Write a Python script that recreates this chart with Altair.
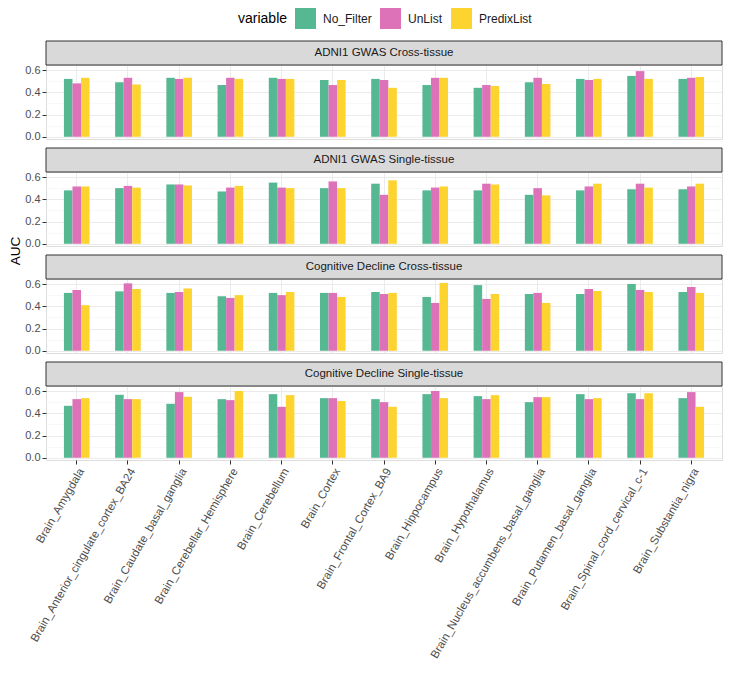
import altair as alt
import pandas as pd

tissues = [
    "Brain_Amygdala", "Brain_Anterior_cingulate_cortex_BA24", "Brain_Caudate_basal_ganglia",
    "Brain_Cerebellar_Hemisphere", "Brain_Cerebellum", "Brain_Cortex", "Brain_Frontal_Cortex_BA9",
    "Brain_Hippocampus", "Brain_Hypothalamus", "Brain_Nucleus_accumbens_basal_ganglia",
    "Brain_Putamen_basal_ganglia", "Brain_Spinal_cord_cervical_c-1", "Brain_Substantia_nigra",
]
variables = ["No_Filter", "UnList", "PredixList"]
colors = ["#56B893", "#DE72B9", "#FDD330"]
panels = [
    "ADNI1 GWAS Cross-tissue", "ADNI1 GWAS Single-tissue",
    "Cognitive Decline Cross-tissue", "Cognitive Decline Single-tissue",
]

adni_cross_nofilter = [0.52, 0.49, 0.53, 0.465, 0.53, 0.51, 0.52, 0.465, 0.44, 0.49, 0.52, 0.547, 0.52]
adni_cross_unlist = [0.48, 0.53, 0.52, 0.53, 0.52, 0.465, 0.51, 0.53, 0.465, 0.53, 0.51, 0.59, 0.53]
adni_cross_predix = [0.53, 0.47, 0.53, 0.52, 0.52, 0.51, 0.44, 0.53, 0.456, 0.475, 0.52, 0.52, 0.537]

adni_single_nofilter = [0.48, 0.50, 0.533, 0.47, 0.55, 0.50, 0.54, 0.48, 0.48, 0.44, 0.48, 0.49, 0.49]
adni_single_unlist = [0.515, 0.52, 0.533, 0.505, 0.505, 0.56, 0.44, 0.505, 0.54, 0.50, 0.515, 0.54, 0.515]
adni_single_predix = [0.515, 0.505, 0.524, 0.52, 0.50, 0.50, 0.57, 0.515, 0.533, 0.435, 0.54, 0.505, 0.54]

cog_cross_nofilter = [0.52, 0.534, 0.52, 0.49, 0.52, 0.52, 0.528, 0.484, 0.59, 0.51, 0.51, 0.60, 0.528]
cog_cross_unlist = [0.546, 0.606, 0.528, 0.475, 0.50, 0.52, 0.51, 0.43, 0.466, 0.52, 0.555, 0.546, 0.573]
cog_cross_predix = [0.41, 0.555, 0.56, 0.50, 0.528, 0.484, 0.52, 0.61, 0.51, 0.43, 0.537, 0.528, 0.52]

cog_single_nofilter = [0.467, 0.566, 0.485, 0.527, 0.572, 0.536, 0.527, 0.572, 0.554, 0.50, 0.572, 0.58, 0.536]
cog_single_unlist = [0.527, 0.527, 0.59, 0.518, 0.458, 0.536, 0.50, 0.60, 0.527, 0.545, 0.527, 0.527, 0.59]
cog_single_predix = [0.536, 0.527, 0.548, 0.60, 0.563, 0.51, 0.458, 0.536, 0.563, 0.545, 0.536, 0.58, 0.458]

panel_values = [
    [adni_cross_nofilter, adni_cross_unlist, adni_cross_predix],
    [adni_single_nofilter, adni_single_unlist, adni_single_predix],
    [cog_cross_nofilter, cog_cross_unlist, cog_cross_predix],
    [cog_single_nofilter, cog_single_unlist, cog_single_predix],
]

W = 676
H = 74
STRIP = 24
GAP = 33
FONT = "Liberation Sans"

y_ticks = [0.0, 0.1, 0.2, 0.3, 0.4, 0.5, 0.6]
minor_test = "round(datum.value * 10) % 2 == 1"


def make_panel(idx):
    name = panels[idx]
    rows = []
    for v, series in zip(variables, panel_values[idx]):
        for t, val in zip(tissues, series):
            rows.append({"tissue": t, "variable": v, "AUC": val})
    df = pd.DataFrame(rows)
    bottom = idx == len(panels) - 1

    if bottom:
        xaxis = alt.Axis(
            title=None, labelAngle=-60, labelAlign="right", labelBaseline="top",
            labelFontSize=11.5, labelColor="#4d4d4d", labelFont=FONT, labelPadding=2,
            tickColor="#333333", tickSize=4, domain=False, grid=True,
            gridColor="#ebebeb", gridWidth=1, bandPosition=0.5, labelOverlap=False,
            labelLimit=400,
        )
    else:
        xaxis = alt.Axis(
            title=None, labels=False, ticks=False, domain=False, grid=True,
            gridColor="#ebebeb", gridWidth=1, bandPosition=0.5,
        )

    yaxis = alt.Axis(
        title=None, values=y_ticks, domain=False,
        labelExpr="round(datum.value * 10) % 2 == 1 ? '' : format(datum.value, '.1f')",
        labelFontSize=11, labelColor="#4d4d4d", labelFont=FONT, labelPadding=2,
        tickColor="#333333",
        tickSize={"condition": {"test": minor_test, "value": 0}, "value": 4},
        gridColor={"condition": {"test": minor_test, "value": "#f4f4f4"}, "value": "#ebebeb"},
        gridWidth={"condition": {"test": minor_test, "value": 0.6}, "value": 1},
    )

    bars = alt.Chart(df).mark_bar().encode(
        x=alt.X("tissue:N", sort=tissues,
                scale=alt.Scale(domain=tissues, paddingInner=0.5, paddingOuter=0.35), axis=xaxis),
        xOffset=alt.XOffset("variable:N", sort=variables,
                            scale=alt.Scale(domain=variables, paddingInner=0, paddingOuter=0)),
        y=alt.Y("AUC:Q", scale=alt.Scale(domain=[-0.02, 0.645], nice=False, zero=False),
                axis=yaxis, stack=None),
        color=alt.Color(
            "variable:N", sort=variables,
            scale=alt.Scale(domain=variables, range=colors),
            legend=alt.Legend(
                title="variable", orient="none", direction="horizontal", titleOrient="left",
                legendX=192, legendY=-57,
                symbolType="square", symbolSize=441, symbolStrokeWidth=0, symbolOpacity=1,
                labelFontSize=12, labelFont=FONT, labelColor="#1a1a1a",
                titleFontSize=14, titleFont=FONT, titleFontWeight="normal", titleColor="#000000",
                titlePadding=7, columnPadding=8, labelOffset=7,
            ),
        ),
    )

    strip_df = pd.DataFrame({"panel": [name]})
    strip_bg = alt.Chart(strip_df).mark_rect(
        fill="#d9d9d9", stroke="#333333", strokeWidth=1
    ).encode(x=alt.value(0), x2=alt.value(W), y=alt.value(-STRIP), y2=alt.value(0))
    strip_txt = alt.Chart(strip_df).mark_text(
        font=FONT, fontSize=11.5, color="#1a1a1a", align="center", baseline="middle"
    ).encode(x=alt.value(W / 2), y=alt.value(-STRIP / 2), text="panel:N")

    layers = [bars, strip_bg, strip_txt]
    if idx == 1:
        auc = alt.Chart(pd.DataFrame({"t": ["AUC"]})).mark_text(
            font=FONT, fontSize=13.5, color="#000000", angle=270,
            align="center", baseline="middle"
        ).encode(x=alt.value(-30), y=alt.value(H + 5), text="t:N")
        layers.append(auc)

    return alt.layer(*layers).properties(width=W, height=H)


chart = alt.vconcat(
    *[make_panel(i) for i in range(len(panels))], spacing=GAP, bounds="flush"
).configure_view(
    stroke="#333333", strokeWidth=1
).configure(padding={"left": 0, "right": 0, "top": 0, "bottom": 0}, font=FONT)

chart.save("out.html", embed_options={"renderer": "svg", "actions": False})
